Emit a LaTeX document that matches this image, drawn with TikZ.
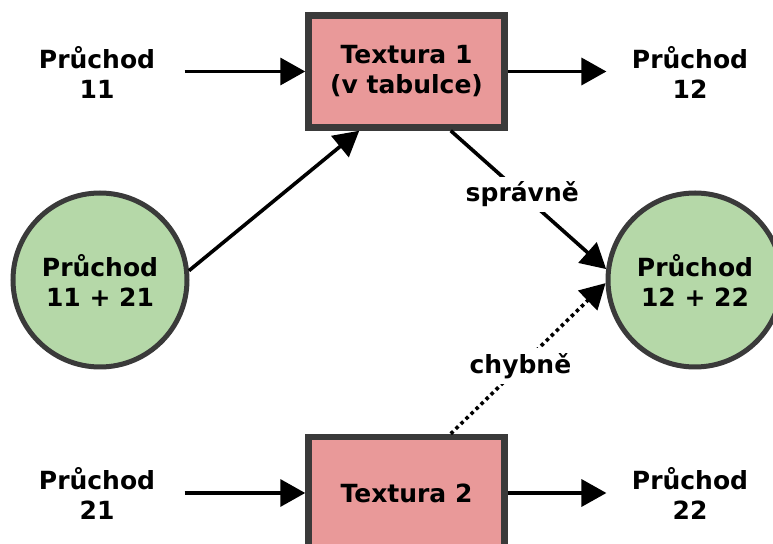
\documentclass[tikz,border=0pt]{standalone}
\usepackage{fontspec}
\setmainfont{DejaVu Sans}
\usetikzlibrary{arrows.meta}
\definecolor{boxpink}{RGB}{233,153,153}
\definecolor{circgreen}{RGB}{181,216,168}
\definecolor{edgegray}{RGB}{58,58,58}
\begin{document}
\begin{tikzpicture}[x=1pt,y=1pt,
  every node/.style={font=\fontsize{25}{30}\selectfont\bfseries, align=center},
  txbox/.style={draw=edgegray, fill=boxpink, line width=6.5pt, minimum width=196pt, inner sep=0pt},
  pass/.style={draw=edgegray, fill=circgreen, circle, line width=5pt, minimum size=174pt, inner sep=0pt},
  lbl/.style={fill=white, inner sep=5pt},
  arr/.style={line width=3.6pt, -{Triangle[length=25pt,width=27pt]}},
  dotarr/.style={line width=3.6pt, dash pattern=on 3.5pt off 3.5pt, -{Triangle[length=25pt,width=27pt]}}
]
\useasboundingbox (0,0) rectangle (773,543);
\clip (0,0) rectangle (773,543);
% boxes
\node[txbox, minimum height=112pt] (box1) at (406.5,471.5) {Textura 1\\(v tabulce)};
\node[txbox, minimum height=112pt] (box2) at (406.5,50) {Textura 2};
% circles
\node[pass] (c1) at (100,263) {Průchod\\11 + 21};
\node[pass] (c2) at (695,263) {Průchod\\12 + 22};
% plain labels
\node (p11) at (97,471) {Průchod\\11};
\node (p12) at (690,471) {Průchod\\12};
\node (p21) at (97,50) {Průchod\\21};
\node (p22) at (690,50) {Průchod\\22};
% horizontal arrows
\draw[arr] ([xshift=26pt]p11.east |- box1.west) -- (box1.west);
\draw[arr] (box1.east) -- ([xshift=-22pt]p12.west |- box1.east);
\draw[arr] ([xshift=26pt]p21.east |- box2.west) -- (box2.west);
\draw[arr] (box2.east) -- ([xshift=-22pt]p22.west |- box2.east);
% diagonal arrows
\draw[arr] (c1.6) -- ([xshift=54pt]box1.south west);
\draw[arr] ([xshift=-57pt]box1.south east) -- node[lbl, pos=0.46] {správně} (c2.173);
\draw[dotarr] ([xshift=-57pt]box2.north east) -- node[lbl, pos=0.45] {chybně} (c2.182);
\end{tikzpicture}
\end{document}
